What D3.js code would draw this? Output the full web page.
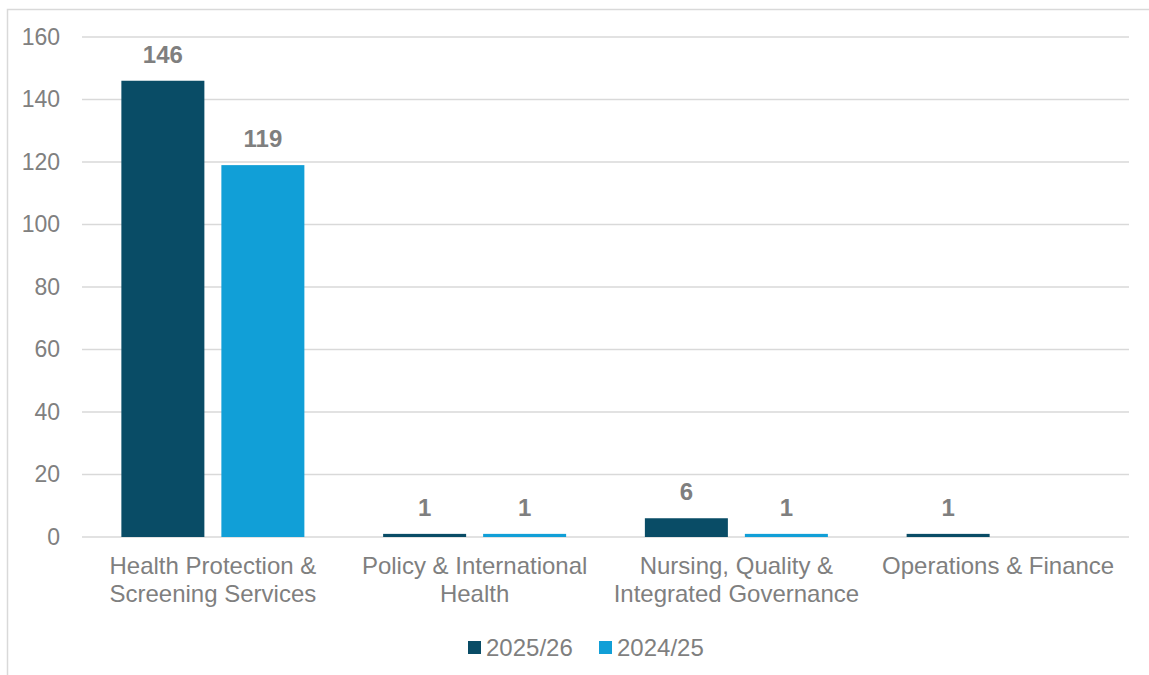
<!DOCTYPE html>
<html>
<head>
<meta charset="utf-8">
<script src="https://cdn.jsdelivr.net/npm/d3@7"></script>
<style>
  html, body { margin: 0; padding: 0; background: #fff; }
  svg { display: block; font-family: "Liberation Sans", Arial, sans-serif; }
</style>
</head>
<body>
<svg id="chart" width="1149" height="675"></svg>
<script>
// Directorate categories (label lines) and counts per year
const categories = [
  ["Health Protection &", "Screening Services"],
  ["Policy & International", "Health"],
  ["Nursing, Quality &", "Integrated Governance"],
  ["Operations & Finance"]
];
const seriesNames = ["2025/26", "2024/25"];
const values2025 = [146, 1, 6, 1];
const values2024 = [119, 1, 1, null];
const yTicks = [0, 20, 40, 60, 80, 100, 120, 140, 160];

const colors = ["#094c66", "#119fd7"];
const seriesValues = [values2025, values2024];

const svg = d3.select("#chart");
const W = 1149, H = 675;
const plot = { left: 82, right: 1129, top: 37, bottom: 537 };
const FS = 24;

// outer frame (top and left edges)
svg.append("path")
  .attr("d", `M7.5,${H} L7.5,9.5 L${W},9.5`)
  .attr("fill", "none").attr("stroke", "#d9d9d9").attr("stroke-width", 1.5);

const x0 = d3.scaleBand()
  .domain(d3.range(categories.length))
  .range([plot.left, plot.right])
  .paddingInner(0).paddingOuter(0);

const y = d3.scaleLinear().domain([0, 160]).range([plot.bottom, plot.top]);

// gridlines
svg.append("g").selectAll("line").data(yTicks).join("line")
  .attr("x1", plot.left).attr("x2", plot.right)
  .attr("y1", d => y(d)).attr("y2", d => y(d))
  .attr("stroke", "#d9d9d9").attr("stroke-width", 1.5);

// y tick labels via d3 axis
const yAxis = svg.append("g")
  .attr("transform", `translate(${plot.left - 22},0)`)
  .call(d3.axisLeft(y).tickValues(yTicks).tickSize(0).tickPadding(0));
yAxis.select(".domain").remove();
yAxis.selectAll("text")
  .attr("fill", "#808080").attr("font-size", 23)
  .attr("font-family", "Liberation Sans, Arial, sans-serif");

// bars within each category
const barW = 83, gap = 17;
const groupOffset = (x0.bandwidth() - (barW * 2 + gap)) / 2;

const data = [];
categories.forEach((c, i) => {
  seriesValues.forEach((vals, s) => {
    if (vals[i] != null) data.push({ cat: i, s, v: vals[i] });
  });
});

const bx = d => x0(d.cat) + groupOffset + d.s * (barW + gap);

svg.append("g").selectAll("rect").data(data).join("rect")
  .attr("x", bx)
  .attr("y", d => y(d.v))
  .attr("width", barW)
  .attr("height", d => y(0) - y(d.v))
  .attr("fill", d => colors[d.s]);

// value labels
svg.append("g").selectAll("text").data(data).join("text")
  .attr("x", d => bx(d) + barW / 2)
  .attr("y", d => y(d.v) - 18)
  .attr("text-anchor", "middle")
  .attr("font-size", FS).attr("font-weight", "bold")
  .attr("fill", "#7f7f7f")
  .text(d => d.v);

// category labels
const catG = svg.append("g");
categories.forEach((lines, i) => {
  const cx = x0(i) + x0.bandwidth() / 2;
  const t = catG.append("text")
    .attr("x", cx)
    .attr("y", 574)
    .attr("text-anchor", "middle")
    .attr("font-size", FS).attr("fill", "#7f7f7f");
  lines.forEach((ln, k) => {
    t.append("tspan").attr("x", cx)
      .attr("dy", k === 0 ? 0 : 28).text(ln);
  });
});

// legend
const legendX = [468, 599];
const lg = svg.append("g");
seriesNames.forEach((name, s) => {
  lg.append("rect").attr("x", legendX[s]).attr("y", 641)
    .attr("width", 13).attr("height", 13).attr("fill", colors[s]);
  lg.append("text").attr("x", legendX[s] + 18).attr("y", 656)
    .attr("font-size", FS).attr("fill", "#7f7f7f").text(name);
});
</script>
</body>
</html>
